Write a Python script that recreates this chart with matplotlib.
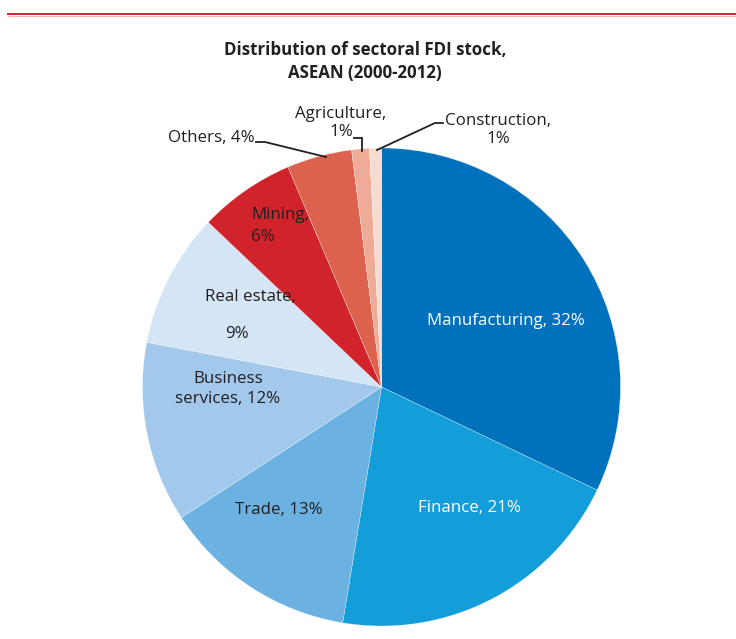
import matplotlib
matplotlib.use("Agg")
import matplotlib.pyplot as plt
from matplotlib.lines import Line2D

# sector shares (%)
sectors = ["Manufacturing", "Finance", "Trade", "Business services", "Real estate",
           "Mining", "Others", "Agriculture", "Construction"]
shares = [32.1, 20.5, 13.2, 12.2, 9.1, 6.5, 4.4, 1.2, 0.8]
pct_labels = ["32%", "21%", "13%", "12%", "9%", "6%", "4%", "1%", "1%"]
colors = ["#0071bc", "#139dd9", "#6bb1e1", "#a2c9eb", "#d4e5f5",
          "#d1232c", "#dc624d", "#eeab97", "#f6dbd1"]

W, H = 736, 639
fig = plt.figure(figsize=(W / 100, H / 100), dpi=100)
ax = fig.add_axes([0, 0, 1, 1])

plt.rcParams["font.family"] = ["Open Sans", "DejaVu Sans"]

# pie (y axis flipped, so counterclock=True draws clockwise on screen)
cx, cy, r = 381.5, 387, 239
ax.pie(shares, colors=colors, startangle=-90, counterclock=True,
       center=(cx, cy), radius=r, frame=True,
       wedgeprops=dict(edgecolor="white", linewidth=0.2))
ax.set_xlim(0, W)
ax.set_ylim(H, 0)
ax.set_aspect("equal")
ax.axis("off")

# top rule
fig.add_artist(Line2D([8 / W, 1], [1 - 13.5 / H, 1 - 13.5 / H], color="#d6222e", lw=1.4))
fig.add_artist(Line2D([8 / W, 1], [1 - 15.5 / H, 1 - 15.5 / H], color="#f1b9bc", lw=0.8))

ax.text(365, 50, "Distribution of sectoral FDI stock,", ha="center", va="center",
        fontsize=12.2, fontweight="bold", color="#231f20")
ax.text(365, 73, "ASEAN (2000-2012)", ha="center", va="center",
        fontsize=12.2, fontweight="bold", color="#231f20")

fs = 12.2
dark = "#231f20"
ax.text(506, 321, sectors[0] + ", " + pct_labels[0], ha="center", va="center", fontsize=fs, color="white")
ax.text(469, 508, sectors[1] + ", " + pct_labels[1], ha="center", va="center", fontsize=fs, color="white")
ax.text(279, 510, sectors[2] + ", " + pct_labels[2], ha="center", va="center", fontsize=fs, color=dark)
ax.text(228, 389, "Business\nservices, " + pct_labels[3], ha="center", va="center", fontsize=fs,
        color=dark, linespacing=1.3)
ax.text(250, 297, sectors[4] + ",", ha="center", va="center", fontsize=fs, color=dark)
ax.text(237, 334, pct_labels[4], ha="center", va="center", fontsize=fs, color=dark)
ax.text(251, 226, sectors[5] + ",\n" + pct_labels[5], ha="left", va="center", fontsize=fs,
        color=dark, linespacing=1.45)
ax.text(255, 138, sectors[6] + ", " + pct_labels[6], ha="right", va="center", fontsize=fs, color=dark)
ax.text(341, 123, sectors[7] + ",\n" + pct_labels[7], ha="center", va="center", fontsize=fs,
        color=dark, linespacing=1.1)
ax.text(498, 130, sectors[8] + ",\n" + pct_labels[8], ha="center", va="center", fontsize=fs,
        color=dark, linespacing=1.2)

# leader lines
ax.plot([256, 265, 326], [142, 142, 157], color=dark, lw=1.3, solid_joinstyle="miter")
ax.plot([354, 362, 362], [138, 138, 151], color=dark, lw=1.3, solid_joinstyle="miter")
ax.plot([443, 435, 377], [123, 123, 150], color=dark, lw=1.3, solid_joinstyle="miter")

fig.savefig("out.png", dpi=100)
